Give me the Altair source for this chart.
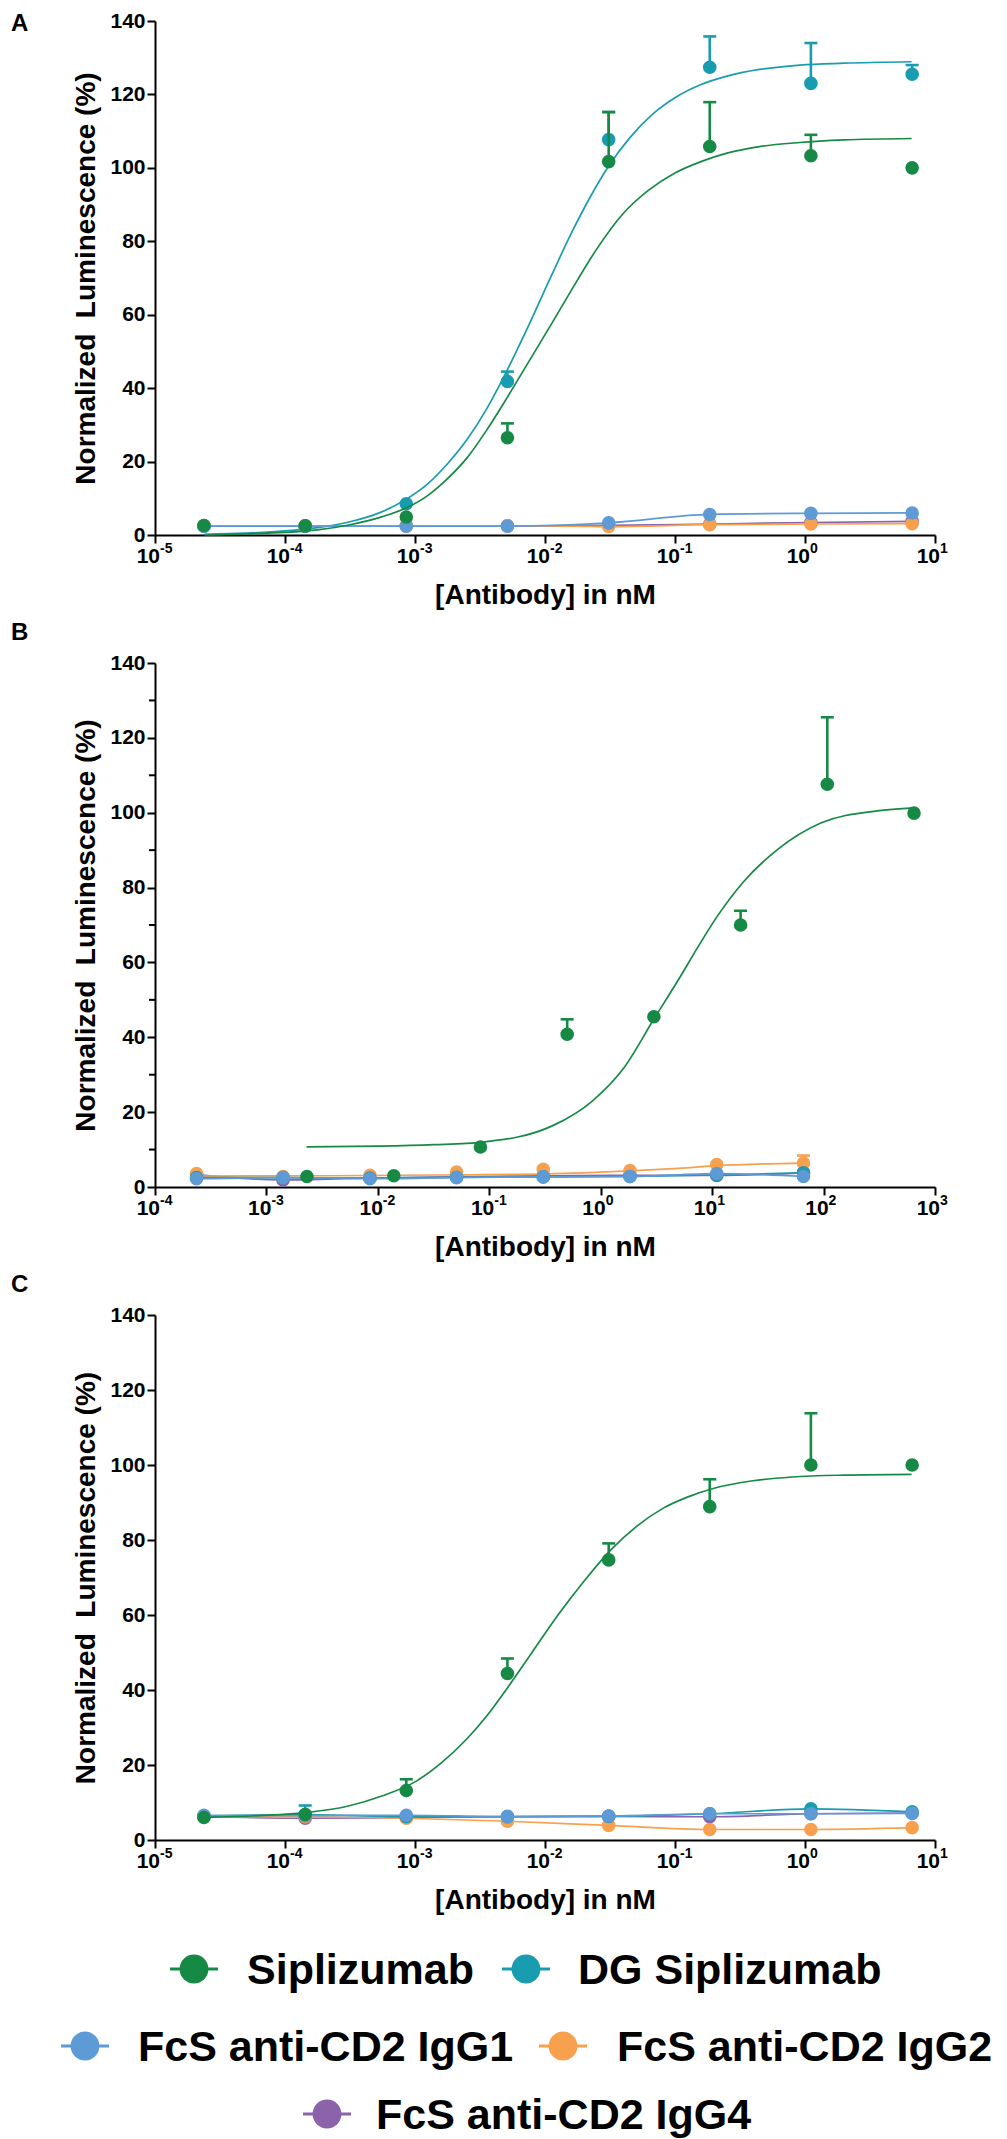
import altair as alt
import pandas as pd

# ---------------- series definitions ----------------
SERIES = ["Siplizumab", "DG Siplizumab", "FcS anti-CD2 IgG1", "FcS anti-CD2 IgG2", "FcS anti-CD2 IgG4"]
COLORS = ["#168A45", "#1A9CB0", "#5E9AD6", "#F7A04E", "#8C62AA"]
COLOR_OF = dict(zip(SERIES, COLORS))
DRAW_ORDER = ["FcS anti-CD2 IgG4", "FcS anti-CD2 IgG2", "DG Siplizumab", "FcS anti-CD2 IgG1", "Siplizumab"]

# ---------------- panel A ----------------
A_X = [0.0000238, 0.000143, 0.000857, 0.00514, 0.0309, 0.185, 1.11, 6.67]
A_SIP = [2.6, 2.5, 4.9, 26.5, 101.7, 105.8, 103.3, 100.0]
A_SIP_ERR = [None, None, None, 30.4, 115.2, 117.9, 109.0, None]
A_DG = [2.4, 2.4, 8.5, 41.8, 107.7, 127.4, 123.0, 125.5]
A_DG_ERR = [None, None, None, 44.5, 115.2, 135.8, 134.0, 128.0]
A_IGG1 = [2.4, 2.4, 2.4, 2.4, 3.3, 5.6, 5.9, 6.0]
A_IGG2 = [2.5, 2.5, 2.5, 2.5, 2.3, 2.8, 3.0, 3.1]
A_IGG4 = [2.5, 2.5, 2.5, 2.5, 2.6, 3.0, 3.4, 3.7]
A_SIP_FIT_LOGX = [-4.62, -4.3, -4.0, -3.75, -3.5, -3.25, -3.06, -2.9, -2.76, -2.6, -2.45, -2.29, -2.12,
                  -1.95, -1.8, -1.6, -1.4, -1.2, -1.0, -0.8, -0.6, -0.35, -0.04, 0.3, 0.82]
A_SIP_FIT_Y = [0.0, 0.3, 0.7, 1.4, 2.8, 5.0, 7.5, 10.8, 15.0, 21.0, 28.5, 37.5, 47.5,
               57.5, 66.5, 78.0, 87.5, 94.0, 98.6, 101.7, 104.0, 105.8, 106.9, 107.6, 108.0]
A_DG_FIT_LOGX = [-4.62, -4.3, -4.0, -3.75, -3.5, -3.27, -3.06, -2.9, -2.76, -2.6, -2.45, -2.29, -2.12,
                 -1.95, -1.8, -1.65, -1.51, -1.35, -1.17, -1.0, -0.8, -0.6, -0.35, -0.04, 0.3, 0.82]
A_DG_FIT_Y = [0.2, 0.5, 1.1, 2.0, 3.6, 6.1, 9.9, 14.0, 19.0, 26.0, 34.3, 45.0, 57.5,
              70.7, 82.0, 92.2, 100.5, 108.1, 114.7, 119.1, 122.7, 125.0, 126.8, 128.0, 128.5, 128.9]

# ---------------- panel B ----------------
B_X_SIP = [0.00231, 0.0139, 0.0833, 0.5, 3.0, 18.0, 108.0, 648.0]
B_SIP = [2.8, 3.0, 10.7, 40.8, 45.5, 70.0, 107.6, 99.9]
B_SIP_ERR = [None, None, None, 44.8, None, 73.8, 125.5, None]
B_X_FC = [0.000236, 0.00141, 0.00849, 0.0509, 0.305, 1.83, 11.0, 66.0]
B_DG = [2.5, 2.5, 2.4, 2.6, 2.7, 2.8, 3.2, 3.8]
B_IGG1 = [2.2, 2.5, 2.2, 2.5, 2.7, 2.8, 3.6, 2.8]
B_IGG2 = [3.6, 2.8, 3.1, 4.0, 4.7, 4.4, 6.0, 6.4]
B_IGG2_ERR = [None, None, None, None, None, None, None, 8.4]
B_IGG4 = [3.3, 1.9, 2.4, 2.7, 3.0, 3.1, 3.1, 3.8]
B_SIP_FIT_LOGX = [-2.64, -2.0, -1.5, -1.06, -0.43, -0.07, 0.2, 0.48, 0.7, 0.88, 1.05, 1.28, 1.58, 1.98, 2.48, 2.81]
B_SIP_FIT_Y = [10.7, 10.9, 11.3, 12.0, 16.4, 23.1, 31.5, 45.0, 55.5, 64.5, 72.5, 81.5, 90.0, 97.3, 100.5, 101.3]
B_IGG2_FIT_LOGX = [-3.63, -2.5, -1.5, -0.5, 0.26, 0.7, 1.04, 1.5, 1.82]
B_IGG2_FIT_Y = [2.9, 3.0, 3.2, 3.5, 4.3, 5.0, 5.7, 6.2, 6.4]

# ---------------- panel C ----------------
C_X = [0.0000238, 0.000143, 0.000857, 0.00514, 0.0309, 0.185, 1.11, 6.67]
C_SIP = [6.0, 6.8, 13.2, 44.4, 74.7, 88.9, 100.0, 100.0]
C_SIP_ERR = [None, None, 16.2, 48.4, 79.1, 96.2, 113.8, None]
C_DG = [6.3, 6.8, 6.2, 6.2, 6.3, 7.0, 8.3, 7.5]
C_DG_ERR = [None, 9.2, None, None, None, None, None, None]
C_IGG1 = [6.6, 6.5, 6.6, 6.3, 6.4, 7.0, 7.0, 7.1]
C_IGG2 = [6.2, 6.2, 5.8, 5.0, 3.9, 2.8, 2.8, 3.3]
C_IGG4 = [6.2, 5.8, 6.0, 6.2, 6.3, 6.2, 7.0, 7.2]
C_SIP_FIT_LOGX = [-4.62, -4.2, -3.84, -3.52, -3.25, -3.0, -2.8, -2.6, -2.45, -2.28, -2.1, -1.9,
                  -1.7, -1.49, -1.3, -1.09, -0.9, -0.7, -0.4, -0.1, 0.3, 0.82]
C_SIP_FIT_Y = [6.0, 6.5, 7.3, 9.0, 11.8, 15.5, 20.5, 27.0, 33.0, 41.0, 50.0, 60.0,
               69.0, 77.5, 83.5, 88.5, 91.5, 93.8, 95.8, 96.8, 97.3, 97.5]

# ---------------- axis text ----------------
Y_TITLE = "Normalized\u00a0 Luminescence (%)"
X_TITLE = "[Antibody] in nM"
Y_TICKS = [0, 20, 40, 60, 80, 100, 120, 140]
B_MINOR = [10, 30, 50, 70, 90, 110, 130]
A_EXPS = [-5, -4, -3, -2, -1, 0, 1]
B_EXPS = [-4, -3, -2, -1, 0, 1, 2, 3]

FONT = "Liberation Sans"
W = 780


def xenc(exps):
    return alt.X("x:Q",
                 scale=alt.Scale(type="log", domain=[10.0 ** exps[0], 10.0 ** exps[-1]], nice=False),
                 axis=alt.Axis(values=[10.0 ** e for e in exps], labels=False, tickSize=8, tickWidth=2,
                               domainWidth=2, domainColor="black", tickColor="black", grid=False,
                               title=X_TITLE, titleFontSize=28, titleFontWeight="bold", titleFont=FONT,
                               titleY=46, titleBaseline="top", titleColor="black"))


def yenc():
    return alt.Y("y:Q", scale=alt.Scale(domain=[0, 140], nice=False),
                 axis=alt.Axis(values=Y_TICKS, tickSize=8, tickWidth=2, domainWidth=2,
                               domainColor="black", tickColor="black", grid=False,
                               labelFontSize=21, labelFontWeight="bold", labelFont=FONT,
                               labelColor="black", labelPadding=2,
                               title=Y_TITLE, titleFontSize=28, titleFontWeight="bold",
                               titleFont=FONT, titleColor="black", titlePadding=9))


def err_df(xs, ys, es):
    rows = [(x, y, e) for x, y, e in zip(xs, ys, es) if e is not None]
    return pd.DataFrame(rows, columns=["x", "y", "err"])


def make_panel(letter, letter_y, exps, height, points, errors, fits, minor=None):
    X = xenc(exps)
    Y = yenc()
    layers = []
    for name in DRAW_ORDER:
        col = COLOR_OF[name]
        if name in fits:
            fx, fy = fits[name]
            layers.append(alt.Chart(pd.DataFrame({"x": fx, "y": fy}))
                          .mark_line(color=col, strokeWidth=1.7, interpolate="monotone")
                          .encode(x=X, y=Y))
        if name in errors:
            ex, ey, ee = errors[name]
            edf = err_df(ex, ey, ee)
            if len(edf):
                layers.append(alt.Chart(edf).mark_rule(color=col, strokeWidth=2.6)
                              .encode(x=X, y=Y, y2=alt.Y2("err:Q")))
                cdf = edf[["x", "err"]].rename(columns={"err": "y"})
                layers.append(alt.Chart(cdf).mark_tick(color=col, orient="horizontal", size=13,
                                                       thickness=2.6, opacity=1)
                              .encode(x=X, y=Y))
        if name in points:
            px, py = points[name]
            layers.append(alt.Chart(pd.DataFrame({"x": px, "y": py}))
                          .mark_circle(color=col, size=185, opacity=1)
                          .encode(x=X, y=Y))
    if minor:
        layers.append(alt.Chart(pd.DataFrame({"y": minor}))
                      .mark_rule(color="black", strokeWidth=2)
                      .encode(y=Y, x=alt.value(-6), x2=alt.value(0)))
    dec = pd.DataFrame({"x": [10.0 ** e for e in exps], "base": ["10"] * len(exps),
                        "exp": [str(e) for e in exps]})
    layers.append(alt.Chart(dec).mark_text(align="right", baseline="alphabetic", dx=5,
                                           fontSize=21, fontWeight="bold", font=FONT, color="black")
                  .encode(x=X, y=alt.value(height + 28), text="base:N"))
    layers.append(alt.Chart(dec).mark_text(align="left", baseline="alphabetic", dx=5,
                                           fontSize=14, fontWeight="bold", font=FONT, color="black")
                  .encode(x=X, y=alt.value(height + 18), text="exp:N"))
    layers.append(alt.Chart(pd.DataFrame({"t": [letter]}))
                  .mark_text(align="left", baseline="top", fontSize=24, fontWeight="bold",
                             font=FONT, color="black")
                  .encode(x=alt.value(-144), y=alt.value(letter_y), text="t:N"))
    return alt.layer(*layers).properties(width=W, height=height)


def lx(v):
    return [10.0 ** u for u in v]


panel_a = make_panel(
    "A", -9, A_EXPS, 514,
    points={"Siplizumab": (A_X, A_SIP), "DG Siplizumab": (A_X, A_DG),
            "FcS anti-CD2 IgG1": (A_X, A_IGG1), "FcS anti-CD2 IgG2": (A_X, A_IGG2),
            "FcS anti-CD2 IgG4": (A_X, A_IGG4)},
    errors={"Siplizumab": (A_X, A_SIP, A_SIP_ERR), "DG Siplizumab": (A_X, A_DG, A_DG_ERR)},
    fits={"Siplizumab": (lx(A_SIP_FIT_LOGX), A_SIP_FIT_Y), "DG Siplizumab": (lx(A_DG_FIT_LOGX), A_DG_FIT_Y),
          "FcS anti-CD2 IgG1": (A_X, A_IGG1), "FcS anti-CD2 IgG2": (A_X, A_IGG2),
          "FcS anti-CD2 IgG4": (A_X, A_IGG4)},
)

panel_b = make_panel(
    "B", -42, B_EXPS, 524,
    points={"Siplizumab": (B_X_SIP, B_SIP), "DG Siplizumab": (B_X_FC, B_DG),
            "FcS anti-CD2 IgG1": (B_X_FC, B_IGG1), "FcS anti-CD2 IgG2": (B_X_FC, B_IGG2),
            "FcS anti-CD2 IgG4": (B_X_FC, B_IGG4)},
    errors={"Siplizumab": (B_X_SIP, B_SIP, B_SIP_ERR), "FcS anti-CD2 IgG2": (B_X_FC, B_IGG2, B_IGG2_ERR)},
    fits={"Siplizumab": (lx(B_SIP_FIT_LOGX), B_SIP_FIT_Y), "DG Siplizumab": (B_X_FC, B_DG),
          "FcS anti-CD2 IgG1": (B_X_FC, B_IGG1), "FcS anti-CD2 IgG2": (lx(B_IGG2_FIT_LOGX), B_IGG2_FIT_Y),
          "FcS anti-CD2 IgG4": (B_X_FC, B_IGG4)},
    minor=B_MINOR,
)

panel_c = make_panel(
    "C", -42, A_EXPS, 525,
    points={"Siplizumab": (C_X, C_SIP), "DG Siplizumab": (C_X, C_DG),
            "FcS anti-CD2 IgG1": (C_X, C_IGG1), "FcS anti-CD2 IgG2": (C_X, C_IGG2),
            "FcS anti-CD2 IgG4": (C_X, C_IGG4)},
    errors={"Siplizumab": (C_X, C_SIP, C_SIP_ERR), "DG Siplizumab": (C_X, C_DG, C_DG_ERR)},
    fits={"Siplizumab": (lx(C_SIP_FIT_LOGX), C_SIP_FIT_Y), "DG Siplizumab": (C_X, C_DG),
          "FcS anti-CD2 IgG1": (C_X, C_IGG1), "FcS anti-CD2 IgG2": (C_X, C_IGG2),
          "FcS anti-CD2 IgG4": (C_X, C_IGG4)},
)

# ---------------- legend (layout table) ----------------
LEG_SYMBOL_X = [39, 371, -70, 408, 172]
LEG_TEXT_X = [92, 423, -17, 462, 221]
LEG_ROW_Y = [1, 1, 78, 78, 146]
leg = pd.DataFrame({"label": SERIES, "color": COLORS, "sx": LEG_SYMBOL_X, "tx": LEG_TEXT_X, "ly": LEG_ROW_Y})
leg["sx0"] = leg["sx"] - 24
leg["sx1"] = leg["sx"] + 24
LH = 165
lxs = alt.Scale(domain=[0, W], nice=False, zero=False)
lys = alt.Scale(domain=[0, LH], reverse=True, nice=False, zero=False)
cscale = alt.Scale(domain=SERIES, range=COLORS)
leg_line = alt.Chart(leg).mark_rule(strokeWidth=3).encode(
    x=alt.X("sx0:Q", scale=lxs, axis=None), x2="sx1:Q",
    y=alt.Y("ly:Q", scale=lys, axis=None),
    color=alt.Color("label:N", scale=cscale, legend=None))
leg_dot = alt.Chart(leg).mark_circle(size=830, opacity=1).encode(
    x=alt.X("sx:Q", scale=lxs, axis=None), y=alt.Y("ly:Q", scale=lys, axis=None),
    color=alt.Color("label:N", scale=cscale, legend=None))
leg_txt = alt.Chart(leg).mark_text(align="left", baseline="alphabetic", dy=15, fontSize=43,
                                   fontWeight="bold", font=FONT, color="black").encode(
    x=alt.X("tx:Q", scale=lxs, axis=None), y=alt.Y("ly:Q", scale=lys, axis=None), text="label:N")
legend = alt.layer(leg_line, leg_dot, leg_txt).properties(width=W, height=LH)

chart = alt.vconcat(panel_a, panel_b, panel_c, legend, spacing=128, bounds="flush",
                    padding={"left": 3, "top": 2, "right": 0, "bottom": 0}) \
    .configure(font=FONT) \
    .configure_view(stroke="transparent", strokeWidth=0)

chart.save("out.html", embed_options={"renderer": "svg", "actions": False})
